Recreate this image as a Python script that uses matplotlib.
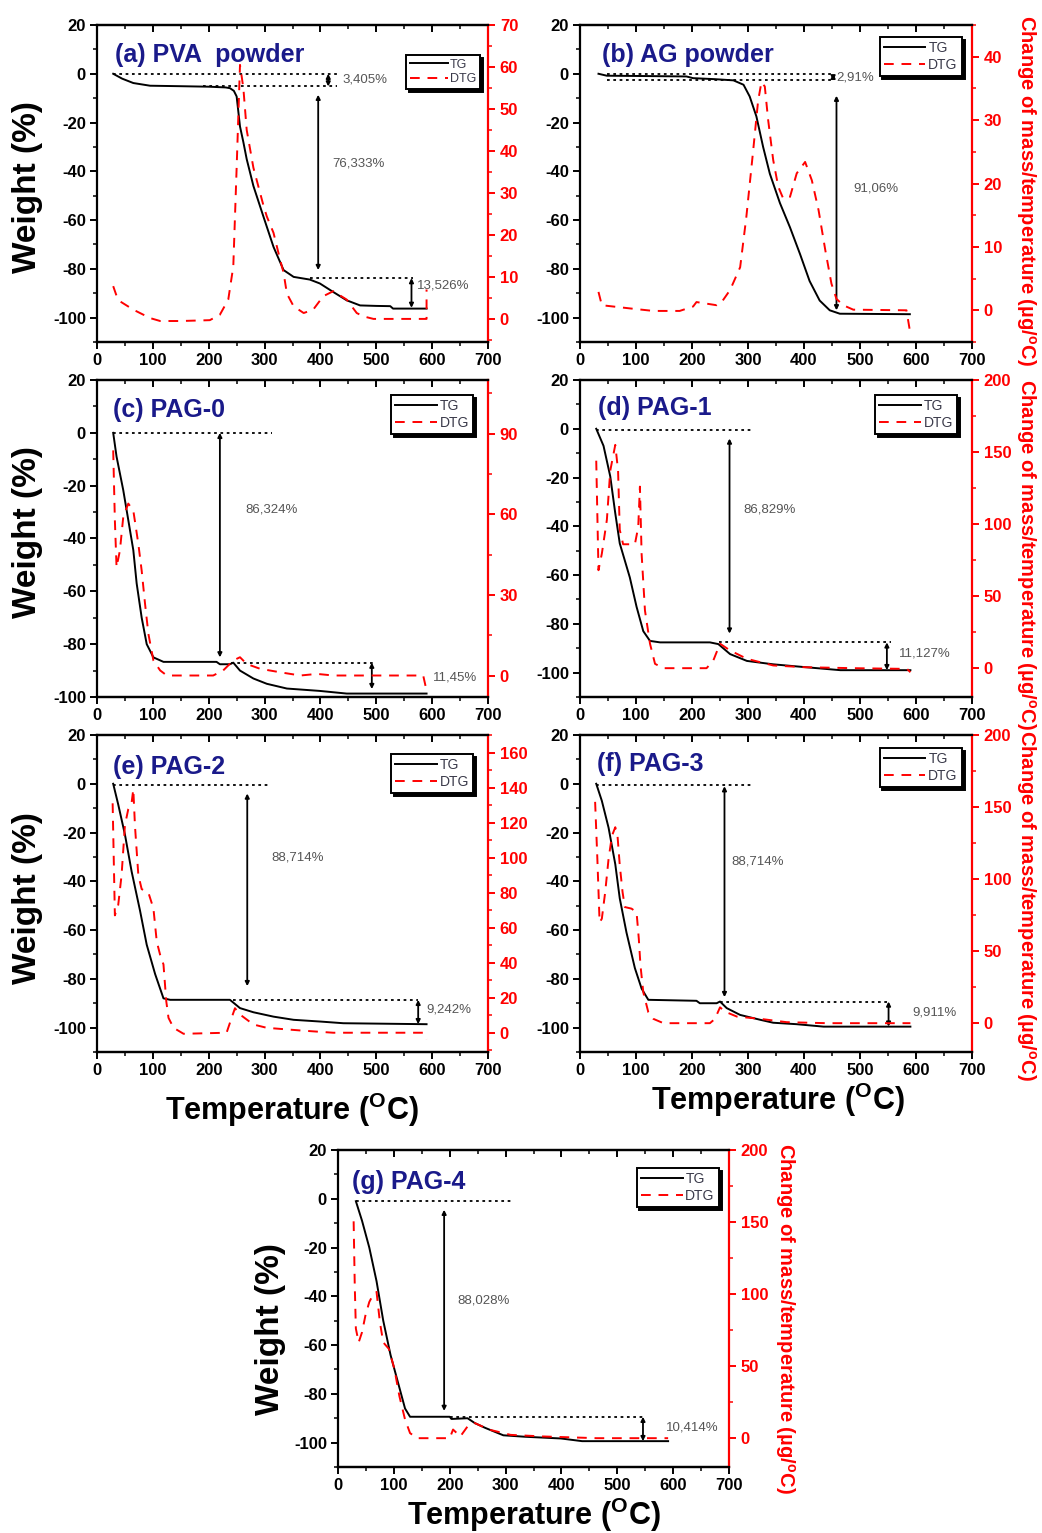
import matplotlib
matplotlib.use("Agg")
import matplotlib.pyplot as plt
from matplotlib.ticker import MultipleLocator

plt.rcParams['font.family'] = ['Liberation Sans', 'DejaVu Sans']
plt.rcParams['font.weight'] = 'bold'
plt.rcParams['mathtext.fontset'] = 'custom'
plt.rcParams['mathtext.rm'] = 'Liberation Sans'
plt.rcParams['mathtext.it'] = 'Liberation Sans:italic'
plt.rcParams['mathtext.bf'] = 'Liberation Sans:bold'
plt.rcParams['axes.linewidth'] = 1.6
plt.rcParams['axes.unicode_minus'] = False

# ---- data (T in oC, weight in %, DTG in ug/oC) ----
pva_tg_t = [29, 45, 65, 95, 150, 200, 230, 238, 245, 250, 256, 262, 268, 280, 298, 316,
            334, 352, 381, 399, 423, 447, 471, 500, 525, 530, 590]
pva_tg_w = [0, -2, -3.8, -4.9, -5.1, -5.3, -5.6, -5.9, -7, -9.3, -21.6, -28, -35, -46, -58.6, -71,
            -80.5, -83.3, -84.4, -86, -89.5, -92.9, -95, -95.2, -95.3, -96.3, -96.3]
pva_dtg_t = [29, 35, 41, 65, 95, 113, 150, 202, 220, 235, 244, 250, 256, 262, 268, 280, 298,
             304, 316, 328, 334, 340, 352, 370, 387, 405, 423, 447, 465, 477, 495, 590, 590]
pva_dtg_v = [7.8, 5.5, 4.2, 2.2, 0.2, -0.5, -0.5, -0.3, 1, 4.6, 12.5, 36, 60.5, 55, 45, 36, 27,
             24.4, 20.5, 14, 11, 6, 3, 1.4, 2.2, 5.4, 6.6, 4.6, 1.4, 0.6, 0, 0, 7]
pva_losses = ["3,405%", "76,333%", "13,526%"]

ag_tg_t = [33, 48, 100, 190, 202, 240, 274, 292, 303, 315, 327, 339, 357, 375, 393, 410,
           428, 446, 464, 589]
ag_tg_w = [0, -0.8, -0.9, -1.1, -1.8, -2.2, -2.7, -4.5, -9.3, -17.5, -30, -41, -53, -63, -74, -85,
           -93, -97, -98.4, -98.6]
ag_dtg_t = [33, 39, 89, 131, 178, 202, 208, 226, 244, 253, 268, 286, 297, 309, 318, 324, 330,
            336, 345, 354, 363, 375, 387, 402, 414, 426, 438, 449, 458, 470, 488, 583, 589]
ag_dtg_v = [2.9, 0.8, 0.3, -0.1, -0.1, 0.6, 1.3, 1.05, 0.8, 1.3, 3.2, 6.8, 14.7, 25, 33, 36, 35.3,
            30, 23.7, 19.5, 17.6, 17.9, 21.6, 23.4, 20.5, 15.8, 9.5, 4.2, 1.8, 0.8, 0.1, 0, -3.2]
ag_losses = ["2,91%", "91,06%"]

pag0_tg_t = [29, 35, 47, 56, 65, 71, 80, 89, 101, 119, 214, 220, 238, 244, 256, 280, 304, 340,
             399, 447, 590]
pag0_tg_w = [0, -9, -21.7, -33, -44.4, -57, -70, -80, -85, -86.7, -86.7, -87.6, -87.6, -87, -90,
             -93, -95, -96.8, -97.7, -98.7, -98.7]
pag0_dtg_t = [29, 32, 35, 41, 47, 56, 65, 74, 80, 86, 92, 101, 113, 125, 208, 226, 244, 256, 268,
              292, 328, 364, 394, 423, 584, 590]
pag0_dtg_v = [83.8, 57.7, 40.3, 46.5, 59, 64, 61.4, 49, 39, 26.7, 15.5, 5.6, 1.9, 0, 0, 1.9, 5.6,
              6.8, 4.3, 2.5, 1.2, 0, 0.6, 0, 0, -5.6]
pag0_losses = ["86,324%", "11,45%"]

pag1_tg_t = [29, 42, 54, 63, 71, 89, 101, 113, 125, 143, 232, 247, 268, 298, 345, 399, 465, 590]
pag1_tg_w = [0, -7, -19.5, -34.7, -47, -61, -73, -83, -87, -87.6, -87.6, -88.3, -92.4, -95.2,
             -96.6, -97.7, -99, -99]
pag1_dtg_t = [29, 33, 39, 48, 54, 63, 68, 71, 77, 89, 98, 104, 107, 110, 116, 125, 134, 149, 226,
              238, 250, 268, 298, 345, 399, 488, 584, 590]
pag1_dtg_v = [144, 68, 79.5, 103, 137, 155, 137, 96, 86, 86, 86, 98, 126, 79.5, 40, 17, 3, 0, 0,
              5.3, 17, 12.3, 6.5, 1.9, 0.7, 0, -0.5, -2.8]
pag1_losses = ["86,829%", "11,127%"]

pag2_tg_t = [29, 38, 50, 62, 77, 89, 104, 119, 131, 238, 256, 280, 316, 352, 399, 441, 590]
pag2_tg_w = [0, -8.5, -20.8, -36, -52, -66, -78, -88, -88.6, -88.6, -92, -93.7, -95.5, -96.8,
             -97.5, -98.2, -98.6]
pag2_dtg_t = [28, 30, 32, 38, 44, 50, 56, 62, 65, 68, 74, 80, 92, 101, 107, 113, 119, 124, 128,
              137, 155, 232, 241, 247, 256, 280, 304, 364, 423, 584, 590]
pag2_dtg_v = [131, 99, 67, 73, 90, 118.5, 127.7, 131.5, 139, 118, 90, 82, 80, 71, 52, 44.5, 39, 18,
              8.5, 2.8, -0.6, 0, 8.5, 14, 10.4, 4.7, 2.8, 1.3, 0, 0, -3.8]
pag2_losses = ["88,714%", "9,242%"]

pag3_tg_t = [29, 39, 51, 63, 71, 83, 98, 110, 122, 208, 214, 244, 250, 262, 286, 322, 345, 387,
             435, 590]
pag3_tg_w = [0, -7, -18, -33, -47, -61, -75.6, -84, -88.6, -89, -90, -90, -89.3, -92, -94.8, -96.8,
             -98, -98.6, -99.6, -99.6]
pag3_dtg_t = [27, 31, 35, 39, 45, 51, 57, 63, 67, 71, 76, 80, 92, 101, 105, 108, 113, 122, 131,
              149, 232, 241, 250, 259, 280, 322, 369, 441, 590]
pag3_dtg_v = [153.6, 114, 70, 72.5, 91, 114, 130, 136, 130, 109.6, 91, 80.6, 79.5, 77, 58.6, 40,
              21.5, 7.6, 3, 0, 0, 3, 11, 8, 4.6, 3, 0.7, 0, 0]
pag3_losses = ["88,714%", "9,911%"]

pag4_tg_t = [32, 43, 56, 69, 81, 94, 107, 120, 129, 200, 203, 232, 245, 264, 296, 335, 399, 437, 591]
pag4_tg_w = [-1, -9, -20, -33.8, -50, -64, -75, -86, -89.4, -89.4, -90.3, -90, -92, -94, -97,
             -97.6, -98.3, -99.4, -99.4]
pag4_dtg_t = [28, 30, 32, 37, 43, 49, 56, 62, 69, 75, 81, 91, 101, 110, 120, 129, 142, 200, 206,
              219, 232, 245, 270, 309, 367, 463, 591]
pag4_dtg_v = [150.5, 106, 76, 66.5, 73.5, 85, 94.5, 99, 101.5, 80.5, 66.5, 62, 48, 29, 13, 3.5, 0,
              0, 6, 1.2, 8.2, 10.5, 6, 2.3, 1.2, 0, 0]
pag4_losses = ["88,028%", "10,414%"]

W, H = 1042, 1533
TITLE_COLOR = '#1a1a8a'
NOTE_COLOR = '#555555'


def px_rect(left, top, width=391, height=317):
    """Axes rectangle from pixel position in the figure."""
    return [left / W, 1 - (top + height) / H, width / W, height / H]


def draw_panel(fig, rect, title, tg, dtg, ylim_w, ylim_d, dstep, dminor, dmax,
               dotted, arrows, notes, leg_anchor, leg_size=10):
    ax = fig.add_axes(rect)
    ax2 = ax.twinx()

    ax.plot(tg[0], tg[1], color='black', lw=1.4, label='TG')
    ax2.plot(dtg[0], dtg[1], color='red', lw=1.4, dashes=(5, 4), label='DTG')

    ax.set_xlim(0, 700)
    ax.set_ylim(*ylim_w)
    ax2.set_ylim(*ylim_d)

    ax.xaxis.set_major_locator(MultipleLocator(100))
    ax.xaxis.set_minor_locator(MultipleLocator(50))
    ax.yaxis.set_major_locator(MultipleLocator(20))
    ax.yaxis.set_minor_locator(MultipleLocator(10))
    ax2.set_yticks([v for v in range(0, dmax + 1, dstep)])
    ax2.yaxis.set_minor_locator(MultipleLocator(dminor))

    ax.tick_params(axis='both', which='major', length=5, width=1.4, labelsize=12, pad=3)
    ax.tick_params(axis='both', which='minor', length=3, width=1.1)
    ax.tick_params(axis='x', which='both', direction='out', top=False)
    ax.tick_params(axis='y', which='both', direction='out', right=False)
    ax2.xaxis.set_visible(True)
    ax2.tick_params(axis='x', which='both', direction='in', top=True, bottom=False,
                    labeltop=False, labelbottom=False)
    ax2.tick_params(axis='x', which='major', length=5, width=1.4)
    ax2.tick_params(axis='x', which='minor', length=3, width=1.1)
    ax2.tick_params(axis='y', which='both', direction='out', colors='red', labelsize=12)
    ax2.tick_params(axis='y', which='major', length=5, width=1.4)
    ax2.tick_params(axis='y', which='minor', length=3, width=1.1)
    ax.spines['right'].set_visible(False)
    ax2.spines['right'].set_color('red')
    ax2.spines['left'].set_visible(False)

    ax.text(title[1], title[2], title[0], transform=ax.transAxes, color=TITLE_COLOR,
            fontsize=18, fontweight='bold', va='center', ha='left')

    for x0, x1, y in dotted:
        ax.plot([x0, x1], [y, y], color='black', lw=1.3, linestyle=(0, (1.5, 2)))
    for x, y0, y1 in arrows:
        ax.annotate('', xy=(x, y1), xytext=(x, y0),
                    arrowprops=dict(arrowstyle='<|-|>', color='black', lw=1.3,
                                    mutation_scale=6, shrinkA=0, shrinkB=0))
    for x, y, s in notes:
        ax.text(x, y, s, color=NOTE_COLOR, fontsize=9.5, fontweight='normal',
                ha='left', va='center')

    lines = ax.get_lines()[:1] + ax2.get_lines()[:1]
    leg = ax2.legend(lines, ['TG', 'DTG'], loc='upper right', bbox_to_anchor=leg_anchor,
                     borderaxespad=0, fancybox=False, framealpha=1, edgecolor='black',
                     prop={'size': leg_size, 'weight': 'normal'}, handlelength=3.0,
                     handletextpad=0.2, labelspacing=0.2, borderpad=0.3,
                     shadow={'facecolor': 'black', 'edgecolor': 'black', 'alpha': 1})
    leg.get_frame().set_linewidth(1.4)
    for t in leg.get_texts():
        t.set_color('#3a3a4a')
    return ax, ax2


fig = plt.figure(figsize=(W / 100, H / 100), dpi=100)

# (a) PVA powder
draw_panel(fig, px_rect(97, 25), ('(a) PVA  powder', 0.046, 0.905),
           (pva_tg_t, pva_tg_w), (pva_dtg_t, pva_dtg_v), (-110, 20), (-5.5, 70), 10, 5, 70,
           dotted=[(29, 430, 0), (190, 430, -5.2), (381, 566, -83.8)],
           arrows=[(414, 0, -5.2), (396, -8.6, -80.5), (563, -83.8, -96)],
           notes=[(440, -2.5, pva_losses[0]), (421, -36.7, pva_losses[1]),
                  (573, -86.7, pva_losses[2])],
           leg_anchor=(0.98, 0.905), leg_size=9)

# (b) AG powder
draw_panel(fig, px_rect(580, 25, 392), ('(b) AG powder', 0.056, 0.905),
           (ag_tg_t, ag_tg_w), (ag_dtg_t, ag_dtg_v), (-110, 20), (-5, 45), 10, 5, 40,
           dotted=[(48, 452, 0), (48, 452, -2.7)],
           arrows=[(452, 0, -2.7), (458, -9, -97)],
           notes=[(458, -1.5, ag_losses[0]), (488, -47, ag_losses[1])],
           leg_anchor=(0.974, 0.962))

# (c) PAG-0
draw_panel(fig, px_rect(97, 380), ('(c) PAG-0', 0.041, 0.905),
           (pag0_tg_t, pag0_tg_w), (pag0_dtg_t, pag0_dtg_v), (-100, 20), (-8, 110), 30, 15, 90,
           dotted=[(29, 313, 0), (240, 498, -87)],
           arrows=[(220, 0, -85), (492, -87, -97)],
           notes=[(265, -29, pag0_losses[0]), (602, -92.7, pag0_losses[1])],
           leg_anchor=(0.962, 0.953))

# (d) PAG-1
draw_panel(fig, px_rect(580, 380, 392), ('(d) PAG-1', 0.046, 0.912),
           (pag1_tg_t, pag1_tg_w), (pag1_dtg_t, pag1_dtg_v), (-110, 20), (-20, 200), 50, 25, 200,
           dotted=[(29, 305, -0.7), (248, 555, -87.6)],
           arrows=[(267, -4, -84), (548, -87.6, -99)],
           notes=[(292, -33, pag1_losses[0]), (569, -92, pag1_losses[1])],
           leg_anchor=(0.962, 0.953))

# (e) PAG-2
draw_panel(fig, px_rect(97, 735), ('(e) PAG-2', 0.041, 0.9),
           (pag2_tg_t, pag2_tg_w), (pag2_dtg_t, pag2_dtg_v), (-110, 20), (-11, 170), 20, 10, 160,
           dotted=[(29, 307, -0.7), (244, 575, -88.6)],
           arrows=[(269, -4, -83), (575, -88.6, -98.6)],
           notes=[(313, -30.4, pag2_losses[0]), (590, -92.7, pag2_losses[1])],
           leg_anchor=(0.962, 0.94))

# (f) PAG-3
draw_panel(fig, px_rect(580, 735, 392), ('(f) PAG-3', 0.043, 0.91),
           (pag3_tg_t, pag3_tg_w), (pag3_dtg_t, pag3_dtg_v), (-110, 20), (-20, 200), 50, 25, 200,
           dotted=[(29, 305, -0.7), (250, 554, -89.3)],
           arrows=[(258, -1, -87.5), (551, -89.3, -99.6)],
           notes=[(271, -32, pag3_losses[0]), (593, -94, pag3_losses[1])],
           leg_anchor=(0.974, 0.959))

# (g) PAG-4
draw_panel(fig, px_rect(338, 1150), ('(g) PAG-4', 0.036, 0.9),
           (pag4_tg_t, pag4_tg_w), (pag4_dtg_t, pag4_dtg_v), (-110, 20), (-20, 200), 50, 25, 200,
           dotted=[(32, 309, -1), (200, 546, -89.4)],
           arrows=[(190, -4.5, -87), (546, -89.4, -99.4)],
           notes=[(213, -41.6, pag4_losses[0]), (588, -94, pag4_losses[1])],
           leg_anchor=(0.974, 0.943))

# shared axis titles, placed like in the original composite figure
weight_pos = [(28, 187), (28, 532), (28, 898), (271, 1329)]
for x, y in weight_pos:
    fig.text(x / W, 1 - y / H, 'Weight (%)', rotation=90, ha='center', va='center',
             fontsize=24, fontweight='bold')

dtg_label = r"Change of mass/temperature (µg/$^{\mathbf{o}}$C)"
dtg_pos = [(1026, 190), (1026, 554), (1026, 905), (785, 1318)]
for x, y in dtg_pos:
    fig.text(x / W, 1 - y / H, dtg_label, rotation=270, ha='center', va='center',
             fontsize=14.5, fontweight='bold', color='red')

temp_label = r"Temperature ($^{\mathbf{O}}$C)"
temp_pos = [(292, 1110), (778, 1100), (534, 1515)]
for x, y in temp_pos:
    fig.text(x / W, 1 - y / H, temp_label, ha='center', va='center',
             fontsize=22, fontweight='bold')

fig.savefig('out.png', dpi=100)
